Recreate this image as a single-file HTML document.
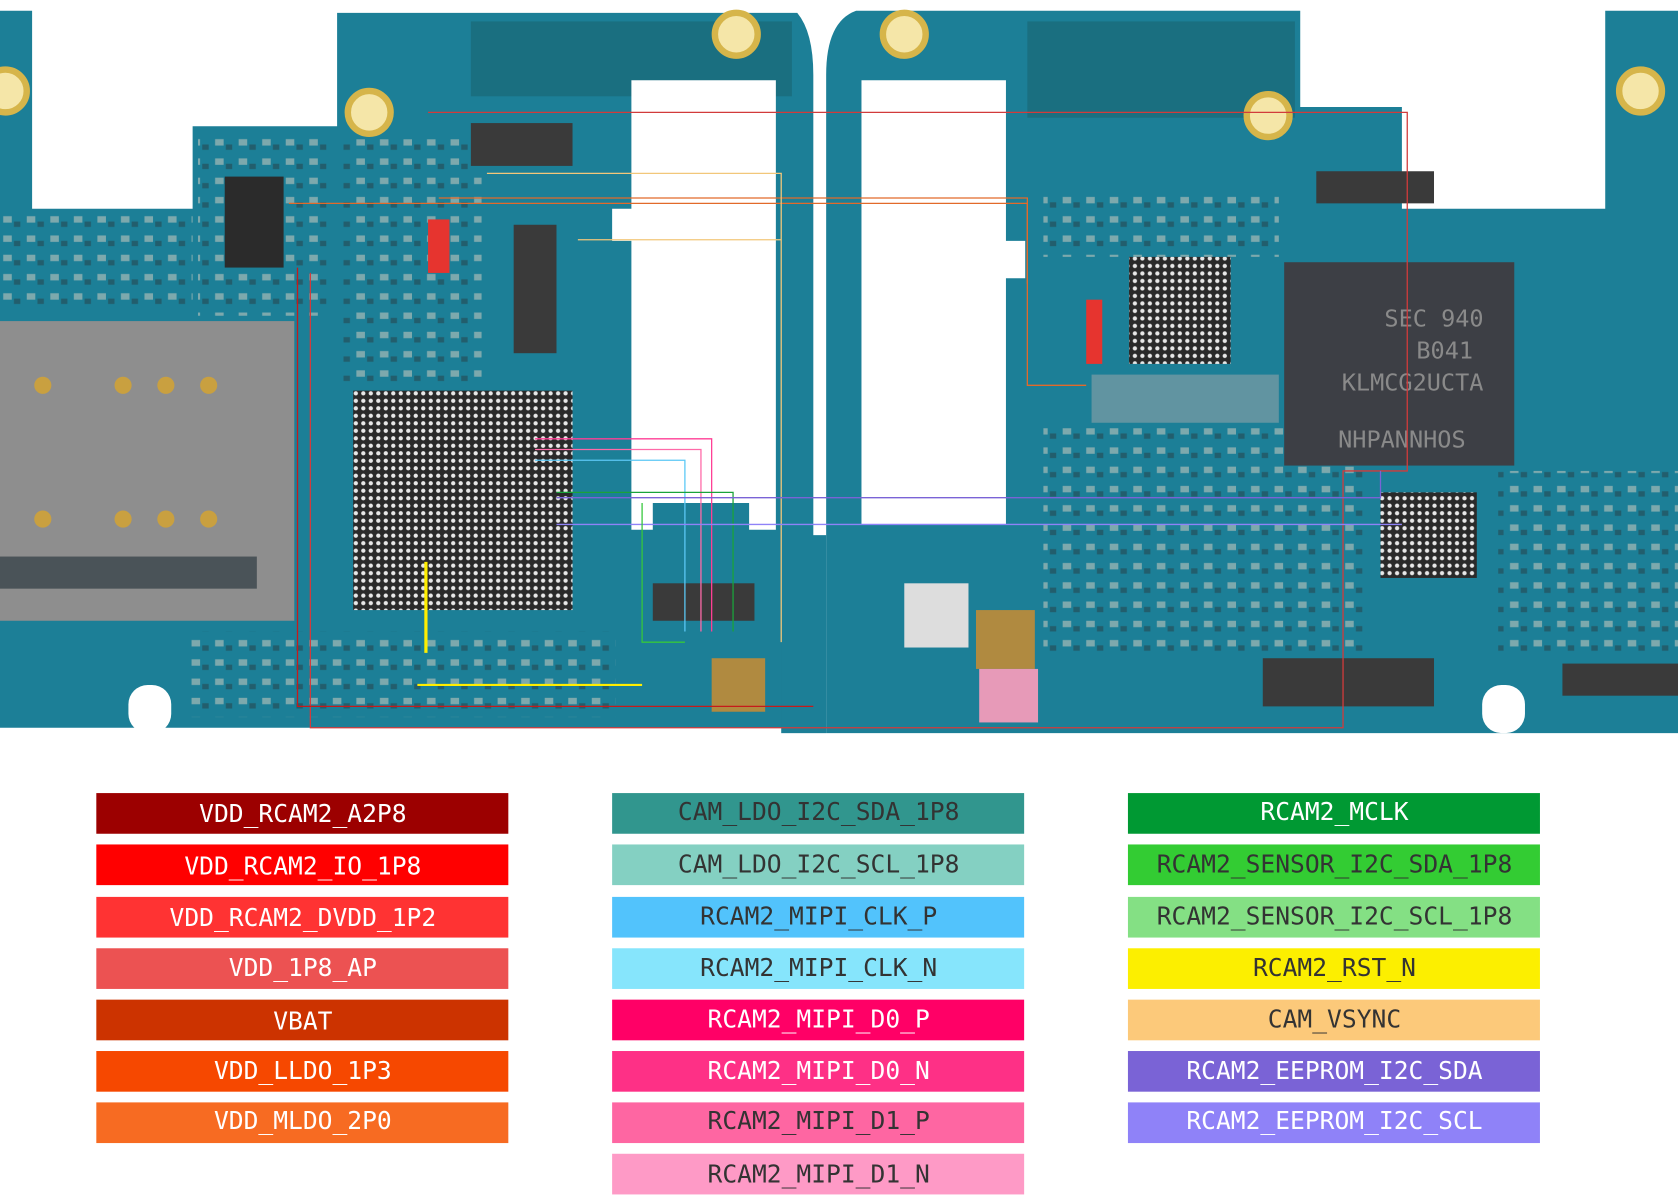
<!DOCTYPE html>
<html><head><meta charset="utf-8"><style>
html,body{margin:0;padding:0;background:#fff;}
svg{display:block}
text{font-family:"DejaVu Sans Mono","Liberation Mono",monospace;font-size:23px;text-anchor:middle;}
</style></head><body>
<svg width="1678" height="1203" viewBox="0 0 1568 1124" preserveAspectRatio="none" xmlns="http://www.w3.org/2000/svg">
<defs>
<pattern id="dots" width="7" height="7" patternUnits="userSpaceOnUse"><rect width="7" height="7" fill="#2a2a2a"/><circle cx="3.5" cy="3.5" r="2" fill="#e8e8e8"/></pattern>
<pattern id="comp" width="22" height="18" patternUnits="userSpaceOnUse"><rect width="22" height="18" fill="#1c7f97"/><rect x="3" y="4" width="8" height="6" fill="#c9c9c0" opacity=".7"/><rect x="13" y="9" width="6" height="5" fill="#2a3a40" opacity=".6"/></pattern>
</defs>
<rect width="1568" height="1124" fill="#fff"/>
<path d="M0 10 H30 V195 H180 V118 H315 V12 H745 Q760 30 760 70 V680 H0 Z" fill="#1c7f97"/>
<path d="M772 70 Q772 20 800 10 H1215 V100 H1310 V195 H1500 V10 H1568 V685 H772 Z" fill="#1c7f97"/>
<rect x="440" y="20" width="300" height="70" fill="#1a6f80"/>
<rect x="960" y="20" width="250" height="90" fill="#1a6f80"/>
<rect x="185" y="125" width="120" height="170" fill="url(#comp)" opacity=".8"/>
<rect x="320" y="130" width="130" height="230" fill="url(#comp)" opacity=".8"/>
<rect x="975" y="180" width="220" height="60" fill="url(#comp)" opacity=".8"/>
<rect x="975" y="400" width="300" height="210" fill="url(#comp)" opacity=".8"/>
<rect x="1400" y="440" width="168" height="170" fill="url(#comp)" opacity=".8"/>
<rect x="175" y="590" width="400" height="80" fill="url(#comp)" opacity=".8"/>
<rect x="0" y="200" width="180" height="90" fill="url(#comp)" opacity=".8"/>
<g fill="#f5e6a8" stroke="#d6b54a" stroke-width="6">
<circle cx="5" cy="85" r="20"/><circle cx="345" cy="105" r="20"/><circle cx="688" cy="32" r="20"/>
<circle cx="845" cy="32" r="20"/><circle cx="1185" cy="108" r="20"/><circle cx="1533" cy="85" r="20"/>
</g>
<path d="M590 75 H725 V495 H700 V470 H610 V495 H590 V225 H572 V195 H590 Z" fill="#fff"/>
<path d="M805 75 H940 V225 H958 V260 H940 V490 H805 Z" fill="#fff"/>
<rect x="120" y="640" width="40" height="45" rx="18" fill="#fff"/>
<rect x="730" y="500" width="42" height="185" fill="#1c7f97"/>
<rect x="1385" y="640" width="40" height="45" rx="18" fill="#fff"/>
<rect x="0" y="300" width="275" height="280" fill="#8e8e8e"/>
<rect x="0" y="520" width="240" height="30" fill="#4a5358"/>
<g fill="#c9a040"><circle cx="40" cy="360" r="8"/><circle cx="115" cy="360" r="8"/><circle cx="155" cy="360" r="8"/><circle cx="195" cy="360" r="8"/><circle cx="40" cy="485" r="8"/><circle cx="115" cy="485" r="8"/><circle cx="155" cy="485" r="8"/><circle cx="195" cy="485" r="8"/></g>
<rect x="330" y="365" width="205" height="205" fill="url(#dots)"/>
<rect x="1055" y="240" width="95" height="100" fill="url(#dots)"/>
<rect x="1200" y="245" width="215" height="190" fill="#3d3f45"/>
<text x="1340" y="305" fill="#8a8a8a" style="font-size:22px">SEC 940</text>
<text x="1350" y="335" fill="#8a8a8a" style="font-size:22px">B041</text>
<text x="1320" y="365" fill="#8a8a8a" style="font-size:22px">KLMCG2UCTA</text>
<text x="1310" y="418" fill="#8a8a8a" style="font-size:22px">NHPANNHOS</text>
<rect x="1290" y="460" width="90" height="80" fill="url(#dots)"/>
<rect x="210" y="165" width="55" height="85" fill="#2b2b2b"/>
<rect x="480" y="210" width="40" height="120" fill="#3a3a3a"/>
<rect x="440" y="115" width="95" height="40" fill="#3a3a3a"/>
<rect x="1230" y="160" width="110" height="30" fill="#3a3a3a"/>
<rect x="1180" y="615" width="160" height="45" fill="#3a3a3a"/>
<rect x="1460" y="620" width="108" height="30" fill="#3a3a3a"/>
<rect x="610" y="545" width="95" height="35" fill="#3a3a3a"/>
<rect x="665" y="615" width="50" height="50" fill="#b08a40"/>
<rect x="912" y="570" width="55" height="55" fill="#b08a40"/>
<rect x="845" y="545" width="60" height="60" fill="#ddd"/>
<rect x="915" y="625" width="55" height="50" fill="#e79ab8"/>
<rect x="1020" y="350" width="175" height="45" fill="#8fa1a8" opacity=".6"/>
<g fill="none" stroke-width="1.2">
<path d="M400 105 H1315 V440 H1255 V680 H290 V255" stroke="#d23b3b"/>
<path d="M410 185 H960 V265" stroke="#e26a2a"/>
<path d="M270 190 H960 V360 H1015" stroke="#e26a2a"/>
<path d="M455 162 H730 V600" stroke="#f2c77a"/>
<path d="M540 224 H730" stroke="#f2c77a"/>
<path d="M500 410 H665 V590" stroke="#ff3e95"/>
<path d="M500 420 H655 V590" stroke="#ff6aa8"/>
<path d="M500 430 H640 V590" stroke="#5bc8f5"/>
<path d="M520 460 H685 V590" stroke="#1aa33a"/>
<path d="M520 465 H1290 V440" stroke="#7a63d6"/>
<path d="M520 490 H1310" stroke="#8f82f8"/>
<path d="M278 250 V660 H760" stroke="#c61a1a"/>
<path d="M398 525 V610" stroke="#ffee00" stroke-width="3"/>
<path d="M390 640 H600" stroke="#ffee00" stroke-width="2"/>
<path d="M600 470 V600 H640" stroke="#36c73c"/>
</g>
<g fill="#e6342f"><rect x="400" y="205" width="20" height="50"/><rect x="1015" y="280" width="15" height="60"/></g>

<g>
<rect x="90" y="741" width="385" height="38" fill="#9c0000"/><text x="283" y="768" fill="#fff">VDD_RCAM2_A2P8</text>
<rect x="90" y="789" width="385" height="38" fill="#ff0000"/><text x="283" y="817" fill="#fff">VDD_RCAM2_IO_1P8</text>
<rect x="90" y="838" width="385" height="38" fill="#ff3333"/><text x="283" y="865" fill="#fff">VDD_RCAM2_DVDD_1P2</text>
<rect x="90" y="886" width="385" height="38" fill="#ec5252"/><text x="283" y="912" fill="#fff">VDD_1P8_AP</text>
<rect x="90" y="934" width="385" height="38" fill="#cc3300"/><text x="283" y="962" fill="#fff">VBAT</text>
<rect x="90" y="982" width="385" height="38" fill="#f64800"/><text x="283" y="1008" fill="#fff">VDD_LLDO_1P3</text>
<rect x="90" y="1030" width="385" height="38" fill="#f76b22"/><text x="283" y="1055" fill="#fff">VDD_MLDO_2P0</text>

<rect x="572" y="741" width="385" height="38" fill="#31968e"/><text x="765" y="766" fill="#333">CAM_LDO_I2C_SDA_1P8</text>
<rect x="572" y="789" width="385" height="38" fill="#84d0c2"/><text x="765" y="815" fill="#333">CAM_LDO_I2C_SCL_1P8</text>
<rect x="572" y="838" width="385" height="38" fill="#52c3fc"/><text x="765" y="864" fill="#333">RCAM2_MIPI_CLK_P</text>
<rect x="572" y="886" width="385" height="38" fill="#86e5fc"/><text x="765" y="912" fill="#333">RCAM2_MIPI_CLK_N</text>
<rect x="572" y="934" width="385" height="38" fill="#ff0066"/><text x="765" y="960" fill="#fff">RCAM2_MIPI_D0_P</text>
<rect x="572" y="982" width="385" height="38" fill="#fe3086"/><text x="765" y="1008" fill="#fff">RCAM2_MIPI_D0_N</text>
<rect x="572" y="1030" width="385" height="38" fill="#fe66a2"/><text x="765" y="1055" fill="#333">RCAM2_MIPI_D1_P</text>
<rect x="572" y="1078" width="385" height="38" fill="#fe9ac6"/><text x="765" y="1105" fill="#333">RCAM2_MIPI_D1_N</text>

<rect x="1054" y="741" width="385" height="38" fill="#009933"/><text x="1247" y="766" fill="#fff">RCAM2_MCLK</text>
<rect x="1054" y="789" width="385" height="38" fill="#33cc33"/><text x="1247" y="815" fill="#333">RCAM2_SENSOR_I2C_SDA_1P8</text>
<rect x="1054" y="838" width="385" height="38" fill="#84e084"/><text x="1247" y="864" fill="#333">RCAM2_SENSOR_I2C_SCL_1P8</text>
<rect x="1054" y="886" width="385" height="38" fill="#fcef00"/><text x="1247" y="912" fill="#333">RCAM2_RST_N</text>
<rect x="1054" y="934" width="385" height="38" fill="#fcc97a"/><text x="1247" y="960" fill="#333">CAM_VSYNC</text>
<rect x="1054" y="982" width="385" height="38" fill="#7a63d6"/><text x="1247" y="1008" fill="#fff">RCAM2_EEPROM_I2C_SDA</text>
<rect x="1054" y="1030" width="385" height="38" fill="#8f82f8"/><text x="1247" y="1055" fill="#fff">RCAM2_EEPROM_I2C_SCL</text>
</g>
</svg>
</body></html>
